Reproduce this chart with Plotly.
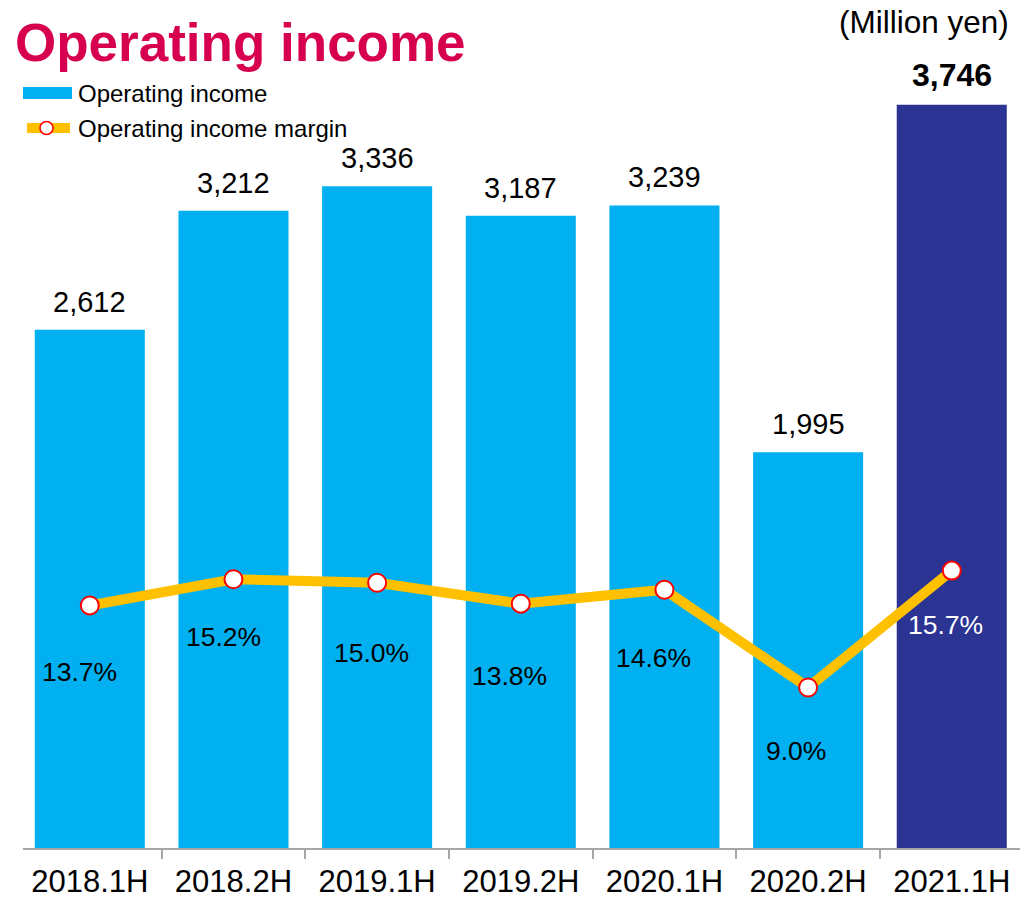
import plotly.graph_objects as go

# ---- data ----
periods = ["2018.1H", "2018.2H", "2019.1H", "2019.2H", "2020.1H", "2020.2H", "2021.1H"]
operating_income = [2612, 3212, 3336, 3187, 3239, 1995, 3746]   # million yen
income_margin = [13.7, 15.2, 15.0, 13.8, 14.6, 9.0, 15.7]       # percent

# ---- styling ----
FONT = "Liberation Sans, Arial, sans-serif"
BAR_BLUE = "#00B0F0"
BAR_NAVY = "#2B3393"
LINE_GOLD = "#FFC000"
TITLE_RED = "#D7004F"
bar_colors = [BAR_BLUE] * (len(periods) - 1) + [BAR_NAVY]
pct_label_dx = [-10, -10, -6, -11, -11, -12, -6]
pct_label_dy = [-67, -58, -70, -72, -68, -64, -54]
pct_label_color = ["black"] * (len(periods) - 1) + ["white"]

W, H = 1029, 900
L, R, T, B = 23, 9, 60, 52
PW, PH = W - L - R, H - T - B


def px(x):
    return (x - L) / PW


def py(y):
    return (H - B - y) / PH


fig = go.Figure()

fig.add_trace(go.Bar(
    x=periods, y=operating_income, marker=dict(color=bar_colors, line=dict(width=0)),
    name="Operating income", showlegend=False, hoverinfo="x+y",
))

fig.add_trace(go.Scatter(
    x=periods, y=income_margin, yaxis="y2", mode="lines+markers",
    line=dict(color=LINE_GOLD, width=10),
    marker=dict(size=18, color="white", line=dict(color="#FF0000", width=2)),
    name="Operating income margin", showlegend=False,
))

annotations = []

# value labels above bars
for i, (p, v) in enumerate(zip(periods, operating_income)):
    last = i == len(periods) - 1
    annotations.append(dict(
        x=p, y=v, xref="x", yref="y", text=f"{v:,}", showarrow=False,
        yanchor="middle", yshift=28 if not last else 30,
        font=dict(family=FONT, size=29 if not last else 32, color="black",
                  weight="bold" if last else "normal"),
    ))

# margin labels below points
for p, m, dx, dy, c in zip(periods, income_margin, pct_label_dx, pct_label_dy, pct_label_color):
    annotations.append(dict(
        x=p, y=m, xref="x", yref="y2", text=f"{m:.1f}%", showarrow=False,
        yanchor="middle", xshift=dx, yshift=dy,
        font=dict(family=FONT, size=26.5, color=c),
    ))

# title and unit
annotations.append(dict(
    x=px(13), y=py(43), xref="paper", yref="paper", text="<b>Operating income</b>",
    showarrow=False, xanchor="left", yanchor="middle",
    font=dict(family=FONT, size=53, color=TITLE_RED),
))
annotations.append(dict(
    x=px(1011), y=py(22), xref="paper", yref="paper", text="(Million yen)",
    showarrow=False, xanchor="right", yanchor="middle",
    font=dict(family=FONT, size=31.5, color="black"),
))

# legend entries
annotations.append(dict(
    x=px(76), y=py(93), xref="paper", yref="paper", text="Operating income",
    showarrow=False, xanchor="left", yanchor="middle",
    font=dict(family=FONT, size=24, color="black"),
))
annotations.append(dict(
    x=px(76), y=py(128), xref="paper", yref="paper", text="Operating income margin",
    showarrow=False, xanchor="left", yanchor="middle",
    font=dict(family=FONT, size=24, color="black"),
))

shapes = [
    dict(type="rect", xref="paper", yref="paper", x0=px(23), x1=px(72), y0=py(87), y1=py(99),
         fillcolor=BAR_BLUE, line=dict(width=0)),
    dict(type="line", xref="paper", yref="paper", x0=px(27), x1=px(70), y0=py(128), y1=py(128),
         line=dict(color=LINE_GOLD, width=10)),
    dict(type="circle", xref="paper", yref="paper", x0=px(40), x1=px(53), y0=py(121.5), y1=py(134.5),
         fillcolor="white", line=dict(color="#FF0000", width=1.5)),
]

fig.update_layout(
    width=W, height=H,
    margin=dict(l=L, r=R, t=T, b=B, pad=0, autoexpand=False),
    paper_bgcolor="white", plot_bgcolor="white",
    bargap=0.234,
    showlegend=False,
    font=dict(family=FONT, color="black"),
    xaxis=dict(
        type="category", range=[-0.465, 6.475], tickson="boundaries",
        showline=True, linecolor="#A6A6A6", linewidth=1.5,
        ticks="outside", ticklen=9, tickcolor="#A6A6A6", tickwidth=1.5,
        ticklabelstandoff=5, automargin=False,
        tickfont=dict(family=FONT, size=31, color="black"),
        showgrid=False, zeroline=False,
    ),
    yaxis=dict(range=[0, 3972], visible=False, showgrid=False, zeroline=False,
               automargin=False),
    yaxis2=dict(range=[-0.2, 44.96], overlaying="y", side="right", visible=False,
                showgrid=False, zeroline=False, automargin=False),
    annotations=annotations,
    shapes=shapes,
)

fig.write_html("out.html")
